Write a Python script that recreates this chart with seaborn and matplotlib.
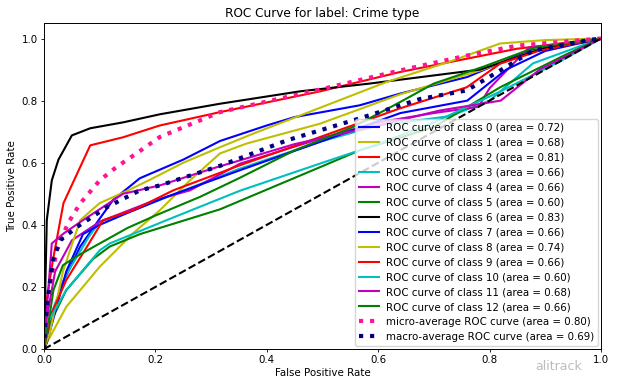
import matplotlib
matplotlib.use("Agg")
import matplotlib.pyplot as plt
import seaborn as sns

# ROC points (fpr, tpr)
fpr_0 = [0, 0.005, 0.03, 0.065, 0.1, 0.124, 0.172, 0.25, 0.316, 0.4, 0.45, 0.567, 0.64, 0.76, 0.87, 1]
tpr_0 = [0, 0.03, 0.2, 0.33, 0.42, 0.48, 0.55, 0.61, 0.67, 0.72, 0.747, 0.785, 0.823, 0.876, 0.96, 1]
fpr_1 = [0, 0.005, 0.04, 0.1, 0.16, 0.208, 0.262, 0.316, 0.364, 0.496, 0.639, 0.783, 0.88, 1]
tpr_1 = [0, 0.02, 0.136, 0.265, 0.373, 0.447, 0.543, 0.63, 0.662, 0.726, 0.82, 0.897, 0.96, 1]
fpr_2 = [0, 0.002, 0.016, 0.035, 0.083, 0.142, 0.208, 0.316, 0.496, 0.639, 0.759, 0.849, 1]
tpr_2 = [0, 0.125, 0.286, 0.47, 0.656, 0.682, 0.72, 0.763, 0.83, 0.892, 0.935, 0.967, 1]
fpr_3 = [0, 0.01, 0.04, 0.08, 0.1, 0.15, 0.25, 0.35, 0.5, 0.6, 0.729, 0.8, 0.878, 1]
tpr_3 = [0, 0.1, 0.24, 0.36, 0.41, 0.44, 0.51, 0.58, 0.67, 0.72, 0.75, 0.8, 0.92, 1]
fpr_4 = [0, 0.005, 0.02, 0.05, 0.1, 0.2, 0.262, 0.352, 0.5, 0.6, 0.7, 0.78, 0.8, 0.87, 1]
tpr_4 = [0, 0.1, 0.25, 0.35, 0.41, 0.48, 0.511, 0.597, 0.68, 0.73, 0.76, 0.78, 0.84, 0.97, 1]
fpr_5 = [0, 0.01, 0.04, 0.088, 0.118, 0.172, 0.28, 0.316, 0.496, 0.567, 0.7, 0.819, 0.939, 1]
tpr_5 = [0, 0.08, 0.19, 0.29, 0.33, 0.37, 0.43, 0.45, 0.586, 0.64, 0.715, 0.843, 0.95, 1]
fpr_6 = [0, 0.005, 0.014, 0.026, 0.05, 0.083, 0.142, 0.208, 0.316, 0.46, 0.585, 0.783, 0.896, 1]
tpr_6 = [0, 0.415, 0.543, 0.61, 0.688, 0.711, 0.73, 0.756, 0.79, 0.83, 0.855, 0.9, 0.968, 1]
fpr_7 = [0, 0.005, 0.04, 0.07, 0.1, 0.148, 0.22, 0.352, 0.5, 0.64, 0.76, 0.83, 0.9, 1]
tpr_7 = [0, 0.02, 0.25, 0.37, 0.4, 0.437, 0.49, 0.576, 0.67, 0.76, 0.8, 0.9, 0.96, 1]
fpr_8 = [0, 0.01, 0.034, 0.065, 0.1, 0.15, 0.19, 0.25, 0.316, 0.376, 0.5, 0.615, 0.729, 0.819, 0.9, 1]
tpr_8 = [0, 0.05, 0.25, 0.415, 0.47, 0.51, 0.545, 0.6, 0.65, 0.694, 0.78, 0.86, 0.926, 0.984, 0.995, 1]
fpr_9 = [0, 0.011, 0.04, 0.077, 0.106, 0.16, 0.232, 0.352, 0.496, 0.639, 0.759, 0.819, 0.89, 1]
tpr_9 = [0, 0.104, 0.222, 0.329, 0.415, 0.447, 0.511, 0.592, 0.683, 0.775, 0.843, 0.919, 0.961, 1]
fpr_10 = [0, 0.005, 0.04, 0.1, 0.118, 0.22, 0.352, 0.5, 0.6, 0.7, 0.82, 0.93, 1]
tpr_10 = [0, 0.08, 0.19, 0.318, 0.34, 0.415, 0.51, 0.6, 0.66, 0.73, 0.83, 0.93, 1]
fpr_11 = [0, 0.005, 0.014, 0.035, 0.07, 0.142, 0.208, 0.3, 0.45, 0.6, 0.71, 0.82, 0.89, 1]
tpr_11 = [0, 0.125, 0.34, 0.372, 0.415, 0.5, 0.527, 0.58, 0.66, 0.72, 0.768, 0.8, 0.9, 1]
fpr_12 = [0, 0.005, 0.017, 0.034, 0.06, 0.1, 0.15, 0.2, 0.28, 0.35, 0.45, 0.555, 0.639, 0.7, 0.79, 0.88, 1]
tpr_12 = [0, 0.05, 0.19, 0.27, 0.3, 0.34, 0.39, 0.43, 0.49, 0.55, 0.64, 0.715, 0.795, 0.855, 0.91, 0.97, 1]
fpr_micro = [0, 0.005, 0.011, 0.023, 0.043, 0.065, 0.1, 0.13, 0.166, 0.208, 0.316, 0.496, 0.639, 0.759, 0.85, 1]
tpr_micro = [0, 0.083, 0.212, 0.318, 0.405, 0.469, 0.543, 0.586, 0.63, 0.683, 0.763, 0.836, 0.897, 0.945, 0.977, 1]
fpr_macro = [0, 0.002, 0.008, 0.016, 0.029, 0.059, 0.113, 0.172, 0.208, 0.316, 0.436, 0.567, 0.675, 0.759, 0.819, 0.878, 0.975, 1]
tpr_macro = [0, 0.07, 0.18, 0.286, 0.35, 0.393, 0.457, 0.511, 0.527, 0.59, 0.672, 0.743, 0.805, 0.833, 0.897, 0.961, 0.994, 1]

areas = [0.72, 0.68, 0.81, 0.66, 0.66, 0.60, 0.83, 0.66, 0.74, 0.66, 0.60, 0.68, 0.66]
area_micro = 0.80
area_macro = 0.69

fprs = [fpr_0, fpr_1, fpr_2, fpr_3, fpr_4, fpr_5, fpr_6, fpr_7, fpr_8, fpr_9, fpr_10, fpr_11, fpr_12]
tprs = [tpr_0, tpr_1, tpr_2, tpr_3, tpr_4, tpr_5, tpr_6, tpr_7, tpr_8, tpr_9, tpr_10, tpr_11, tpr_12]
colors = ["b", "y", "r", "c", "m", "g", "k"]

fs = 7.4
fig, ax = plt.subplots(figsize=(6.17, 3.87), dpi=100)
fig.subplots_adjust(left=0.0713, right=0.974, bottom=0.098, top=0.9406)

for i, (f, t) in enumerate(zip(fprs, tprs)):
    sns.lineplot(x=f, y=t, sort=False, estimator=None, ax=ax,
                 color=colors[i % len(colors)], lw=1.5,
                 label=f"ROC curve of class {i} (area = {areas[i]:.2f})")

sns.lineplot(x=fpr_micro, y=tpr_micro, sort=False, estimator=None, ax=ax,
             color="deeppink", linestyle=":", lw=3,
             label=f"micro-average ROC curve (area = {area_micro:.2f})")
sns.lineplot(x=fpr_macro, y=tpr_macro, sort=False, estimator=None, ax=ax,
             color="navy", linestyle=":", lw=3,
             label=f"macro-average ROC curve (area = {area_macro:.2f})")

ax.plot([0, 1], [0, 1], "k--", lw=1.5)
ax.set_xlim(0.0, 1.0)
ax.set_ylim(0.0, 1.05)
ax.set_xlabel("False Positive Rate", fontsize=fs, labelpad=2)
ax.set_ylabel("True Positive Rate", fontsize=fs, labelpad=3)
ax.set_title("ROC Curve for label: Crime type", fontsize=8.7, pad=4)
ax.tick_params(labelsize=fs, length=2.5, width=0.6, pad=2)
for s in ax.spines.values():
    s.set_linewidth(0.7)
ax.legend(loc="lower right", fontsize=fs, handlelength=2, borderpad=0.4,
          labelspacing=0.48, handletextpad=0.6, borderaxespad=0.3)

fig.text(0.905, 0.045, "alitrack", fontsize=9, color="#bcbcbc", ha="center")

fig.savefig("out.png", dpi=100)
